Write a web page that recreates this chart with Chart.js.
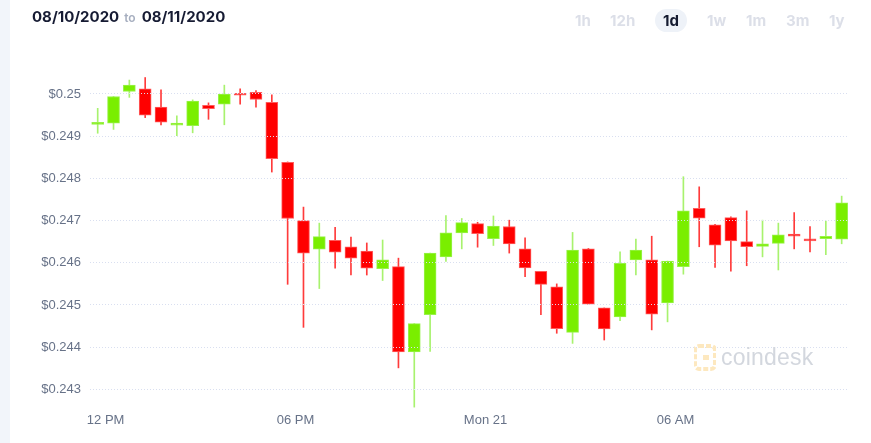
<!DOCTYPE html>
<html>
<head>
<meta charset="utf-8">
<script src="https://cdn.jsdelivr.net/npm/chart.js@4.4.0/dist/chart.umd.min.js"></script>
<style>
  html, body { margin: 0; padding: 0; background: #fff; }
  body { width: 871px; height: 443px; position: relative; overflow: hidden; font-family: Inter, "Liberation Sans", sans-serif; }
  #strip { position: absolute; left: 0; top: 0; width: 10px; height: 443px; background: #f2f5fa; }
  #wrap { position: absolute; left: 0; top: 0; width: 871px; height: 443px; }
  #range { position: absolute; left: 32px; top: 7px; font-size: 15px; font-weight: 700; color: #161b33; white-space: nowrap; }
  #range .to { font-size: 12px; color: #a6aebf; font-weight: 600; margin: 0 6px 0 5px; }
  .btn { position: absolute; top: 9px; height: 23px; line-height: 23px; font-size: 15px; font-weight: 700; color: #dcdfe8; }
  .btn.on { color: #141a30; background: #eef2f8; border-radius: 12px; text-align: center; width: 32px; }
  #mark { position: absolute; left: 694px; top: 344px; display: flex; align-items: center; }
  #mark span { font-family: "Liberation Sans", sans-serif; font-size: 23px; color: #d3d7de; margin-left: 5px; letter-spacing: 0.2px; }
</style>
</head>
<body>
<div id="wrap"><canvas id="chart" width="871" height="443"></canvas></div>
<div id="strip"></div>
<div id="range">08/10/2020<span class="to">to</span>08/11/2020</div>
<div class="btn" style="left:575px">1h</div>
<div class="btn" style="left:610px">12h</div>
<div class="btn on" style="left:655px">1d</div>
<div class="btn" style="left:707px">1w</div>
<div class="btn" style="left:746px">1m</div>
<div class="btn" style="left:786px">3m</div>
<div class="btn" style="left:829px">1y</div>
<div id="mark">
  <svg width="22" height="27" viewBox="0 0 22 27">
    <rect x="1" y="2" width="20" height="23" rx="4" fill="none" stroke="#fde8bf" stroke-width="4" stroke-dasharray="5 2"/>
    <rect x="9" y="11" width="6" height="5" fill="#fde8bf"/>
  </svg>
  <span>coindesk</span>
</div>

<script>
// bougies de 30 min
const opens = [
    0.24928, 0.24931, 0.25006, 0.25012, 0.24969, 0.24926, 0.24925, 0.24973, 0.24976, 0.24999,
    0.25004, 0.24980, 0.24838, 0.24700, 0.24632, 0.24653, 0.24638, 0.24628, 0.24586, 0.24591,
    0.24389, 0.24477, 0.24614, 0.24671, 0.24693, 0.24657, 0.24686, 0.24633, 0.24580, 0.24543,
    0.24435, 0.24633, 0.24493, 0.24472, 0.24607, 0.24607, 0.24505, 0.24591, 0.24729, 0.24690,
    0.24707, 0.24650, 0.24639, 0.24646, 0.24668, 0.24656, 0.24657, 0.24656
];
const closes = [
    0.24930, 0.24994, 0.25021, 0.24950, 0.24933, 0.24931, 0.24983, 0.24965, 0.25000, 0.24997,
    0.24987, 0.24847, 0.24705, 0.24623, 0.24662, 0.24625, 0.24611, 0.24587, 0.24607, 0.24389,
    0.24456, 0.24623, 0.24671, 0.24695, 0.24669, 0.24687, 0.24645, 0.24588, 0.24549, 0.24444,
    0.24630, 0.24502, 0.24443, 0.24599, 0.24630, 0.24478, 0.24604, 0.24723, 0.24706, 0.24642,
    0.24652, 0.24638, 0.24645, 0.24666, 0.24663, 0.24652, 0.24663, 0.24742
];
const highs = [
    0.24966, 0.24994, 0.25033, 0.25039, 0.25010, 0.24948, 0.24986, 0.24979, 0.25021, 0.25012,
    0.25008, 0.24998, 0.24839, 0.24732, 0.24694, 0.24684, 0.24661, 0.24647, 0.24654, 0.24611,
    0.24456, 0.24623, 0.24712, 0.24705, 0.24696, 0.24711, 0.24701, 0.24659, 0.24580, 0.24550,
    0.24672, 0.24634, 0.24493, 0.24626, 0.24656, 0.24663, 0.24604, 0.24804, 0.24780, 0.24691,
    0.24709, 0.24723, 0.24701, 0.24694, 0.24719, 0.24686, 0.24699, 0.24758
];
const lows = [
    0.24907, 0.24916, 0.24992, 0.24944, 0.24927, 0.24901, 0.24908, 0.24940, 0.24927, 0.24976,
    0.24969, 0.24815, 0.24549, 0.24447, 0.24539, 0.24587, 0.24571, 0.24571, 0.24558, 0.24351,
    0.24258, 0.24390, 0.24603, 0.24633, 0.24637, 0.24641, 0.24623, 0.24567, 0.24477, 0.24433,
    0.24409, 0.24501, 0.24417, 0.24463, 0.24571, 0.24441, 0.24460, 0.24573, 0.24638, 0.24589,
    0.24580, 0.24593, 0.24614, 0.24583, 0.24633, 0.24626, 0.24619, 0.24645
];

const yTicks = [0.243, 0.244, 0.245, 0.246, 0.247, 0.248, 0.249, 0.25];
const xTickPos = [0.5, 12.5, 24.5, 36.5];
const xTickLabels = ['12 PM', '06 PM', 'Mon 21', '06 AM'];

const vert = '#7aee00';
const rouge = '#ff0000';

const hausse = opens.map((o, i) => closes[i] >= o);
const corps = opens.map((o, i) => ({ x: i, y: [o, closes[i]] }));
const meches = opens.map((o, i) => ({ x: i, y: [lows[i], highs[i]] }));

function afficherChandelles() {
    const ctx = document.getElementById('chart').getContext('2d');
    new Chart(ctx, {
        type: 'bar',
        data: {
            datasets: [{
                data: corps,
                grouped: false,
                barThickness: 12,
                minBarLength: 2,
                borderWidth: 1,
                borderSkipped: false,
                backgroundColor: hausse.map(h => h ? vert : rouge),
                borderColor: hausse.map(h => h ? '#98f24a' : '#ff5c5c')
            }, {
                data: meches,
                grouped: false,
                barThickness: 1,
                borderWidth: 0,
                backgroundColor: hausse.map(h => h ? '#a8f26e' : '#ff3b3b')
            }]
        },
        options: {
            responsive: false,
            animation: false,
            layout: { padding: { top: 55, right: 23, bottom: 0, left: 0 } },
            plugins: {
                legend: { display: false },
                tooltip: { enabled: false }
            },
            scales: {
                x: {
                    type: 'linear',
                    offset: false,
                    min: -0.486,
                    max: 47.4,
                    afterBuildTicks: axis => { axis.ticks = xTickPos.map(v => ({ value: v })); },
                    afterFit: axis => { axis.height = 35; },
                    grid: { display: false, drawTicks: false, offset: false },
                    border: { display: false },
                    ticks: {
                        padding: 5,
                        maxRotation: 0,
                        autoSkip: false,
                        color: '#677288',
                        font: { family: 'Liberation Sans', size: 13 },
                        callback: (v, i) => xTickLabels[i]
                    }
                },
                y: {
                    min: 0.242559,
                    max: 0.250924,
                    afterBuildTicks: axis => { axis.ticks = yTicks.map(v => ({ value: v })); },
                    afterFit: axis => { axis.width = 90; },
                    grid: {
                        z: 1,
                        color: '#d9dff0',
                        lineWidth: 1,
                        drawTicks: false
                    },
                    border: { display: false, dash: [1, 2] },
                    ticks: {
                        padding: 9,
                        color: '#677288',
                        font: { family: 'Liberation Sans', size: 13 },
                        callback: v => '$' + v
                    }
                }
            }
        }
    });
}

document.addEventListener('DOMContentLoaded', afficherChandelles);
</script>
</body>
</html>
